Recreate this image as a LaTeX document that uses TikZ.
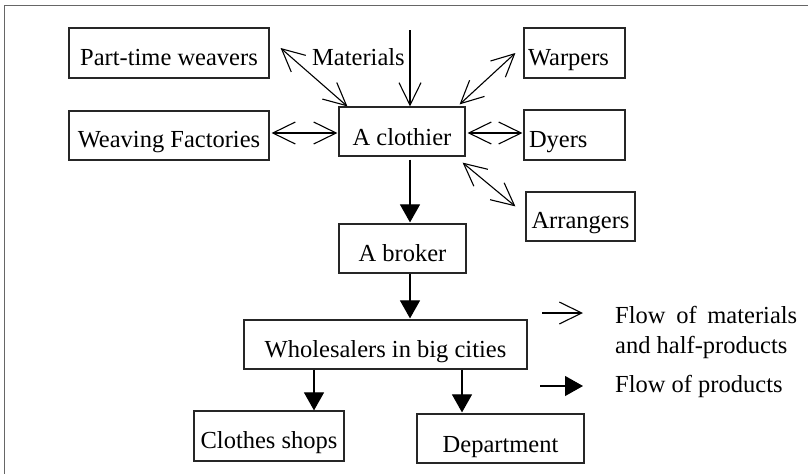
\documentclass[tikz,border=0pt]{standalone}
\usepackage{fontspec}
\setmainfont{Liberation Serif}
\usetikzlibrary{arrows.meta}
\begin{document}
\begin{tikzpicture}[x=1pt,y=-1pt,
  box/.style={draw=black!85, line width=1.2pt, inner sep=0pt, font=\fontsize{24.5}{29}\selectfont},
  lbl/.style={inner sep=0pt, anchor=base west, font=\fontsize{24.5}{29}\selectfont},
  barb/.tip={Straight Barb[length=22.5pt,width=22pt,line width=1.1pt]},
  mat/.style={line width=1.1pt, -barb},
  matboth/.style={line width=1.1pt, barb-barb},
  prod/.style={line width=1.1pt, -{Triangle[length=18pt,width=20pt]}}
]
\useasboundingbox (0,0) rectangle (808,474);
\fill[white] (0,0) rectangle (808,474);
% frame (top and left edges)
\draw[line width=1.5pt, black!60] (808,5.5) -- (4.5,5.5) -- (4.5,474);

% boxes
\node[box, minimum width=200pt, text height=37pt, text depth=13pt] (ptw) at (169,53) {Part-time weavers};
\node[box, minimum width=200pt, text height=36pt, text depth=13pt] (wf) at (169,135.5) {Weaving Factories};
\node[box, minimum width=126pt, text height=38pt, text depth=11pt] (cl) at (402,131.5) {A clothier};
\node[box, inner xsep=4pt, text width=93pt, align=left, text height=37pt, text depth=13pt] (wa) at (574.5,53) {Warpers};
\node[box, inner xsep=5pt, text width=91pt, align=left, text height=37pt, text depth=13pt] (dy) at (574.5,135) {Dyers};
\node[box, minimum width=109pt, text height=36pt, text depth=13pt] (ar) at (580.5,216.5) {Arrangers};
\node[box, minimum width=127pt, text height=37pt, text depth=12pt] (br) at (402.5,248.5) {A broker};
\node[box, minimum width=283pt, text height=37pt, text depth=12pt] (wh) at (385.5,344.5) {Wholesalers in big cities};
\node[box, minimum width=150pt, text height=37pt, text depth=13pt] (cs) at (269,436) {Clothes shops};
\node[box, minimum width=167pt, text height=38pt, text depth=11pt] (de) at (500.5,438.5) {Department};

% labels
\node[lbl] (matl) at (312,65) {Materials};
\node[lbl] (leg1) at (615,323) {\makebox[182pt][s]{Flow of materials}};
\node[lbl] (leg2) at (615,353) {and half-products};
\node[lbl] (leg3) at (615,392) {Flow of products};

% material flows
\coordinate (mattop) at (410,30);
\draw[mat] (mattop) -- ([xshift=8pt]cl.north);
\draw[matboth] ([shift={(11,-5)}]ptw.east) -- ([shift={(9,0)}]cl.north west);
\draw[matboth] ([shift={(2,-2.5)}]wf.east) -- ([shift={(-1,1.5)}]cl.west);
\draw[matboth] ([shift={(-8,0)}]wa.west) -- ([shift={(-6,-2)}]cl.north east);
\draw[matboth] ([shift={(2,1.5)}]cl.east) -- ([shift={(-1,-2)}]dy.west);
\draw[matboth] ([shift={(-3,6)}]cl.south east) -- ([shift={(-10,15)}]ar.north west);

% product flows
\draw[prod] ([shift={(8,3)}]cl.south) -- ([shift={(7.5,-1)}]br.north);
\draw[prod] ([shift={(7.5,0)}]br.south) -- ([shift={(24.5,-1)}]wh.north);
\draw[prod] ([shift={(-71.5,0)}]wh.south) -- ([shift={(45,0)}]cs.north);
\draw[prod] ([shift={(76.5,0)}]wh.south) -- ([shift={(-38.5,-1)}]de.north);

% legend arrows
\coordinate (l1a) at (542,313);
\coordinate (l1b) at (583,313);
\coordinate (l2a) at (540,386);
\coordinate (l2b) at (583,386);
\draw[mat] (l1a) -- (l1b);
\draw[prod] (l2a) -- (l2b);
\end{tikzpicture}
\end{document}
